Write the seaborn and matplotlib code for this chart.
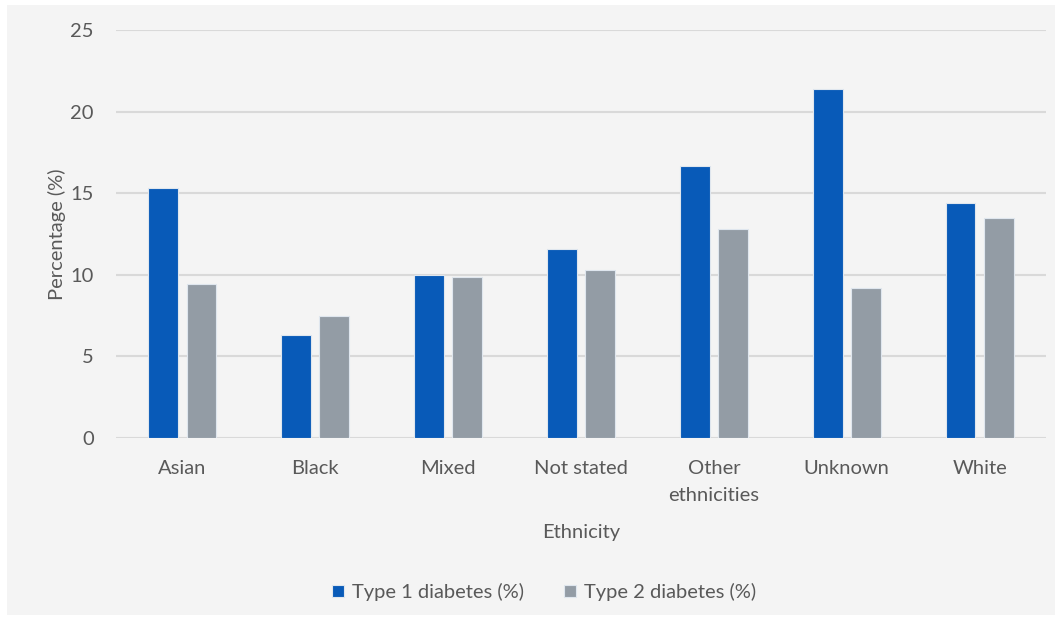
import matplotlib
matplotlib.use("Agg")
import matplotlib.pyplot as plt
from matplotlib.patches import Rectangle
import seaborn as sns
import pandas as pd

# Share of patients by ethnicity
ethnicities = ["Asian", "Black", "Mixed", "Not stated", "Other\nethnicities", "Unknown", "White"]
type1_pct = [15.3, 6.3, 10.0, 11.6, 16.65, 21.4, 14.4]
type2_pct = [9.4, 7.45, 9.85, 10.3, 12.8, 9.2, 13.5]
series_names = ["Type 1 diabetes (%)", "Type 2 diabetes (%)"]
y_ticks = [0, 5, 10, 15, 20, 25]

df = pd.DataFrame({
    "Ethnicity": ethnicities * 2,
    "value": type1_pct + type2_pct,
    "series": [series_names[0]] * len(ethnicities) + [series_names[1]] * len(ethnicities),
})

bg = "#f4f4f4"
text_col = "#595959"
fs = 14.5
sns.set_theme(style="white")
plt.rcParams["font.family"] = ["Lato", "DejaVu Sans"]

W, H = 1061, 622
fig = plt.figure(figsize=(W / 100, H / 100), dpi=100, facecolor="white")
# light grey chart panel inside a thin white frame
panel = Rectangle((7 / W, 7 / H), (W - 13) / W, (H - 12) / H,
                  transform=fig.transFigure, facecolor=bg,
                  edgecolor="none", zorder=-10)
fig.add_artist(panel)

ax = fig.add_axes([116 / W, 1 - 437.7 / H, 930 / W, (437.7 - 30) / H])
ax.set_facecolor(bg)

sns.barplot(
    data=df, x="Ethnicity", y="value", hue="series",
    palette=["#085ab8", "#939ca5"], saturation=1, width=0.574, gap=0.214,
    edgecolor="#dfe6ee", linewidth=0.8, ax=ax, zorder=3,
)

ax.set_ylim(0, 25)
ax.set_yticks(y_ticks)
ax.set_xlim(-0.5, len(ethnicities) - 0.5)
ax.grid(axis="y", color="#d9d9d9", linewidth=1.5, zorder=0)
ax.set_axisbelow(True)
for s in ax.spines.values():
    s.set_visible(False)
ax.tick_params(axis="both", length=0, labelsize=fs, labelcolor=text_col)
ax.tick_params(axis="y", pad=16)
ax.tick_params(axis="x", pad=16)
for lbl in ax.get_xticklabels():
    lbl.set_linespacing(1.75)
ax.set_ylabel("Percentage (%)", fontsize=fs, color=text_col, labelpad=3)
ax.set_xlabel("Ethnicity", fontsize=fs, color=text_col, labelpad=14)

leg = ax.legend(
    loc="center", bbox_to_anchor=(544 / W, 1 - 592 / H), bbox_transform=fig.transFigure,
    ncol=2, frameon=False, fontsize=fs, handlelength=0.6, handleheight=0.6,
    handletextpad=0.4, columnspacing=2.0,
)
for t in leg.get_texts():
    t.set_color(text_col)

fig.savefig("out.png", dpi=100, facecolor="white")
